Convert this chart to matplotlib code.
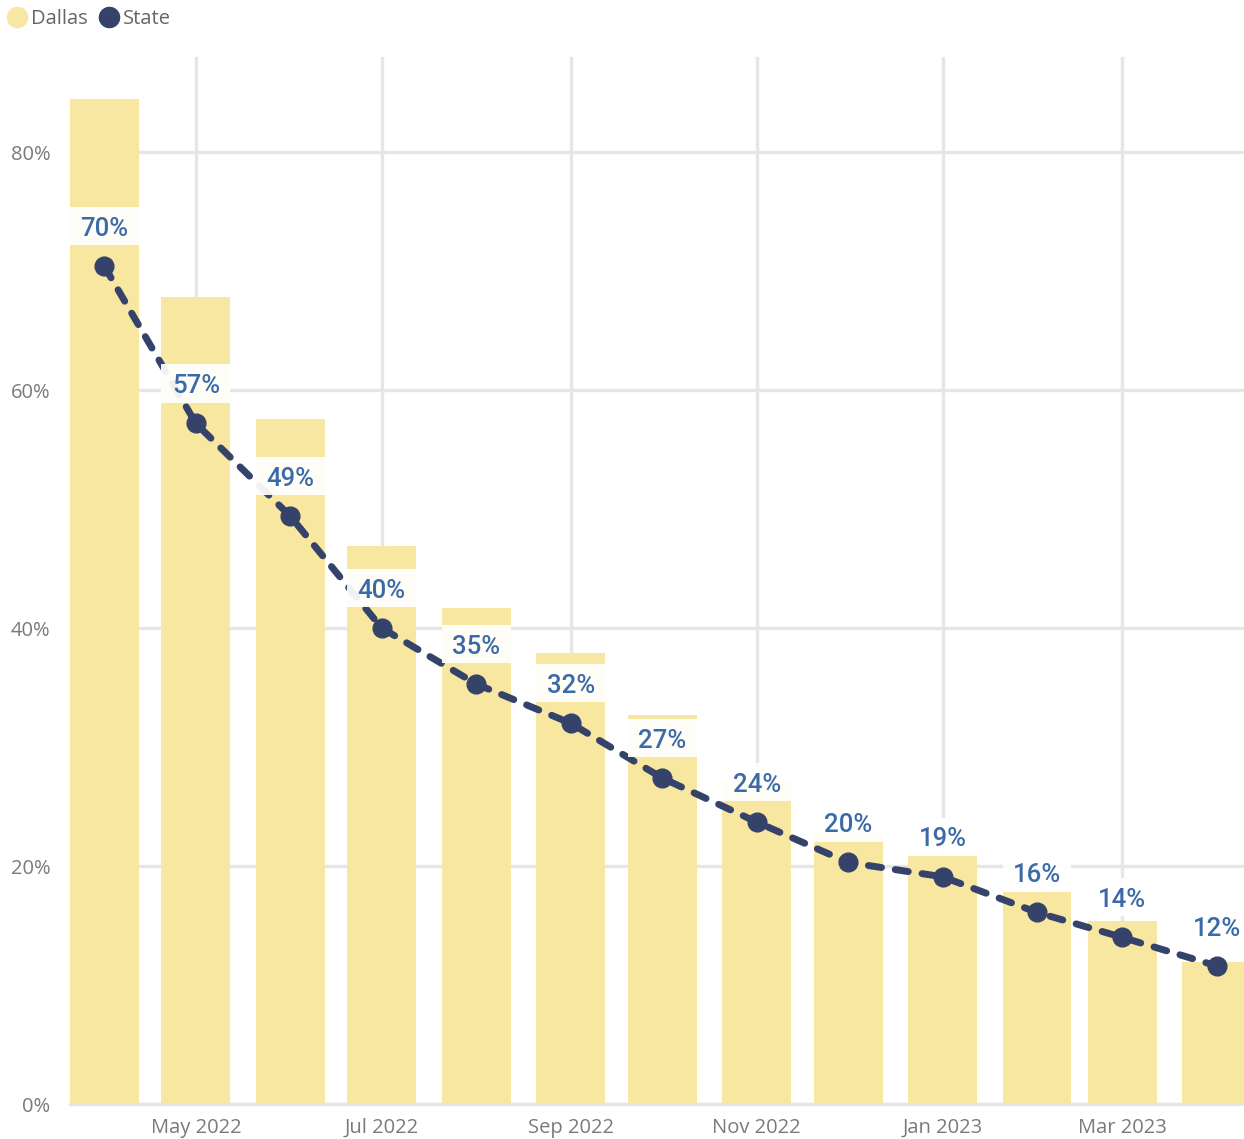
import numpy as np
import pandas as pd
import matplotlib
matplotlib.use("Agg")
import matplotlib.pyplot as plt
import matplotlib.dates as mdates
from matplotlib.lines import Line2D

# Monthly share, Dallas vs. State (percent)
months = ["2022-04-01", "2022-05-01", "2022-06-01", "2022-07-01", "2022-08-01",
          "2022-09-01", "2022-10-01", "2022-11-01", "2022-12-01", "2023-01-01",
          "2023-02-01", "2023-03-01", "2023-04-01"]
dallas = [84.5, 67.8, 57.6, 46.9, 41.7, 37.9, 32.7, 27.2, 22.9, 20.9, 18.0, 15.4, 11.9]
state = [70.4, 57.2, 49.4, 40.0, 35.3, 32.0, 27.4, 23.7, 20.3, 19.1, 16.1, 14.0, 11.6]

BAR = "#f8e7a0"
NAVY = "#35426a"
LABEL = "#3b6aa8"
GRID = "#e6e6e6"
TICK = "#7a7a7a"

dates = pd.to_datetime(months)
x = mdates.date2num(dates)
bar_w = 22.6  # days

fig = plt.figure(figsize=(12.44, 11.39), dpi=100)
ax = fig.add_axes([70 / 1244, 1 - 1104 / 1139, 1 - 70 / 1244, 1047 / 1139])

ax.bar(x, dallas, width=bar_w, color=BAR, zorder=2)
line, = ax.plot(x, state, color=NAVY, lw=5, marker="o", ms=13.5,
                dash_capstyle="round", solid_capstyle="round", zorder=3)
line.set_dashes((1.9, 2.0))

# value labels for the state line, on pale boxes above each point
lab_off = 3.36
box_h = 3.2
ax.bar(x, box_h, bottom=np.array(state) + lab_off - box_h / 2, width=bar_w,
       color="white", alpha=0.93, zorder=4)
for xi, v in zip(x, state):
    ax.text(xi, v + lab_off, f"{v:.0f}%", ha="center", va="center_baseline",
            color=LABEL, fontsize=18.5, family="Roboto", weight="medium",
            zorder=5)

# last bar runs off the right edge
ax.set_xlim(x[0] - 11.3, x[-1] + 8.9)
ax.set_ylim(0, 88)

ax.set_yticks([0, 20, 40, 60, 80])
ax.yaxis.set_major_formatter(lambda v, p: f"{v:.0f}%")
ax.xaxis.set_major_locator(mdates.MonthLocator(bymonth=[1, 3, 5, 7, 9, 11]))
ax.xaxis.set_major_formatter(mdates.DateFormatter("%b %Y"))

ax.tick_params(axis="both", length=0, labelcolor=TICK, labelsize=14.5)
ax.tick_params(axis="y", pad=14)
ax.tick_params(axis="x", pad=10)
for lbl in ax.get_xticklabels() + ax.get_yticklabels():
    lbl.set_family("Open Sans")

ax.grid(True, color=GRID, lw=2.4)
ax.set_axisbelow(True)
for s in ["top", "right", "left"]:
    ax.spines[s].set_visible(False)
ax.spines["bottom"].set_color(GRID)
ax.spines["bottom"].set_linewidth(2.4)
ax.spines["bottom"].set_zorder(1)

handles = [Line2D([], [], ls="", marker="o", ms=14.5, color=BAR),
           Line2D([], [], ls="", marker="o", ms=14.5, color=NAVY)]
leg = fig.legend(handles, ["Dallas", "State"], loc="upper left",
                 bbox_to_anchor=(-0.0088, 1.008), ncol=2, frameon=False,
                 handlelength=1.0, handletextpad=0.2, columnspacing=0.55,
                 prop={"family": "Open Sans", "size": 14.5})
for t in leg.get_texts():
    t.set_color("#666666")

fig.savefig("out.png", dpi=100)
